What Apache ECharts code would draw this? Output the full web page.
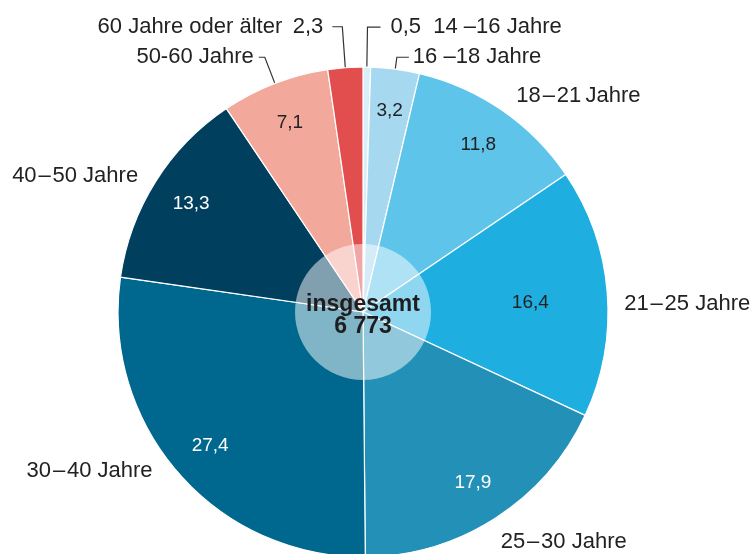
<!DOCTYPE html>
<html>
<head>
<meta charset="utf-8">
<script src="https://cdn.jsdelivr.net/npm/echarts@6/dist/echarts.min.js"></script>
<style>
  html, body { margin: 0; padding: 0; background: #fff; }
  #chart { width: 754px; height: 554px; }
</style>
</head>
<body>
<div id="chart"></div>
<script>
// Altersgruppen und Anteile in %
const categories = ['14 –16 Jahre', '16 –18 Jahre', '18\u200a–\u200a21\u2009Jahre', '21\u200a–\u200a25 Jahre', '25\u200a–\u200a30 Jahre',
  '30\u200a–\u200a40 Jahre', '40\u200a–\u200a50 Jahre', '50-60 Jahre', '60 Jahre oder älter'];
const shares = [0.5, 3.2, 11.8, 16.4, 17.9, 27.4, 13.3, 7.1, 2.3];
const totalLabel = 'insgesamt';
const totalValue = '6 773';

// Farben je Segment
const colors = ['#d8eef9', '#a6d9f0', '#5fc4ea', '#1eaee0', '#2390b8',
  '#00688f', '#003f5e', '#f3a89c', '#e24e4e'];
const valueColors = ['#222', '#222', '#222', '#222', '#fff', '#fff', '#fff', '#222', '#222'];

// Platzierung der Beschriftungen aussen
const outerPlacement = [
  { line: true, length: 40, length2: 13, dist: 10, dy: 0 },
  { line: true, length: 12, length2: 12, dist: 4, dy: 0 },
  { line: false, length: 18, length2: 0, dist: 4, dy: 0 },
  { line: false, length: 0, length2: 12, dist: 5, dy: 12 },
  { line: false, length: 0, length2: 0, dist: 5, dy: 24 },
  { line: false, length: 0, length2: 21, dist: 5, dy: -2 },
  { line: false, length: 10, length2: 4, dist: 5, dy: 0 },
  { line: true, length: 28, length2: 6, dist: 5, dy: 0 },
  { line: true, length: 41, length2: 10, dist: 9, dy: 0 }
];
const innerShift = [[0, 0], [0, 0], [0, 0], [-35, 7], [0, 0], [0, 0], [0, 0], [0, 0], [0, 0]];

const fmt = v => v.toFixed(1).replace('.', ',');
const FONT = 'Liberation Sans, Arial, sans-serif';
const CENTER = [363, 312];
const R = 245;

const chart = echarts.init(document.getElementById('chart'));

const mainData = categories.map((name, i) => {
  const p = outerPlacement[i];
  return {
    name: name,
    value: shares[i],
    itemStyle: { color: colors[i] },
    label: { distanceToLabelLine: p.dist },
    labelLine: { show: p.line, length: p.length, length2: p.length2 }
  };
});

const valueData = categories.map((name, i) => ({
  name: name,
  value: shares[i],
  label: { show: i !== 0 && i !== 8, color: valueColors[i] }
}));

const option = {
  backgroundColor: '#fff',
  animation: false,
  series: [
    {
      type: 'pie',
      center: CENTER,
      radius: [0, R],
      startAngle: 90,
      clockwise: true,
      avoidLabelOverlap: false,
      silent: true,
      itemStyle: { borderColor: '#fff', borderWidth: 1.2 },
      label: {
        position: 'outside',
        fontFamily: FONT,
        fontSize: 22,
        color: '#222',
        formatter: p => {
          if (p.dataIndex === 0) return fmt(p.value) + '  ' + p.name;
          if (p.dataIndex === 8) return p.name + ' \u2009' + fmt(p.value);
          return p.name;
        }
      },
      labelLine: { lineStyle: { color: '#333', width: 1.2 } },
      labelLayout: p => ({ dy: outerPlacement[p.dataIndex].dy }),
      data: mainData
    },
    {
      // nur Werte im Segment
      type: 'pie',
      center: CENTER,
      radius: [155, R],
      startAngle: 90,
      clockwise: true,
      silent: true,
      avoidLabelOverlap: false,
      itemStyle: { color: 'rgba(0,0,0,0)', borderWidth: 0 },
      label: {
        position: 'inside',
        fontFamily: FONT,
        fontSize: 19,
        formatter: p => fmt(p.value)
      },
      labelLine: { show: false },
      labelLayout: p => ({ dx: innerShift[p.dataIndex][0], dy: innerShift[p.dataIndex][1] }),
      data: valueData
    },
    {
      // Kreis in der Mitte
      type: 'pie',
      center: CENTER,
      radius: [0, 68],
      silent: true,
      itemStyle: { color: 'rgba(255,255,255,0.5)', borderWidth: 0 },
      label: {
        position: 'center',
        fontFamily: FONT,
        fontSize: 23,
        fontWeight: 'bold',
        lineHeight: 22,
        color: '#1e1e1e',
        formatter: totalLabel + '\n' + totalValue
      },
      labelLayout: { dy: 4 },
      labelLine: { show: false },
      data: [{ value: 1, name: totalLabel }]
    }
  ]
};

chart.setOption(option);
</script>
</body>
</html>
